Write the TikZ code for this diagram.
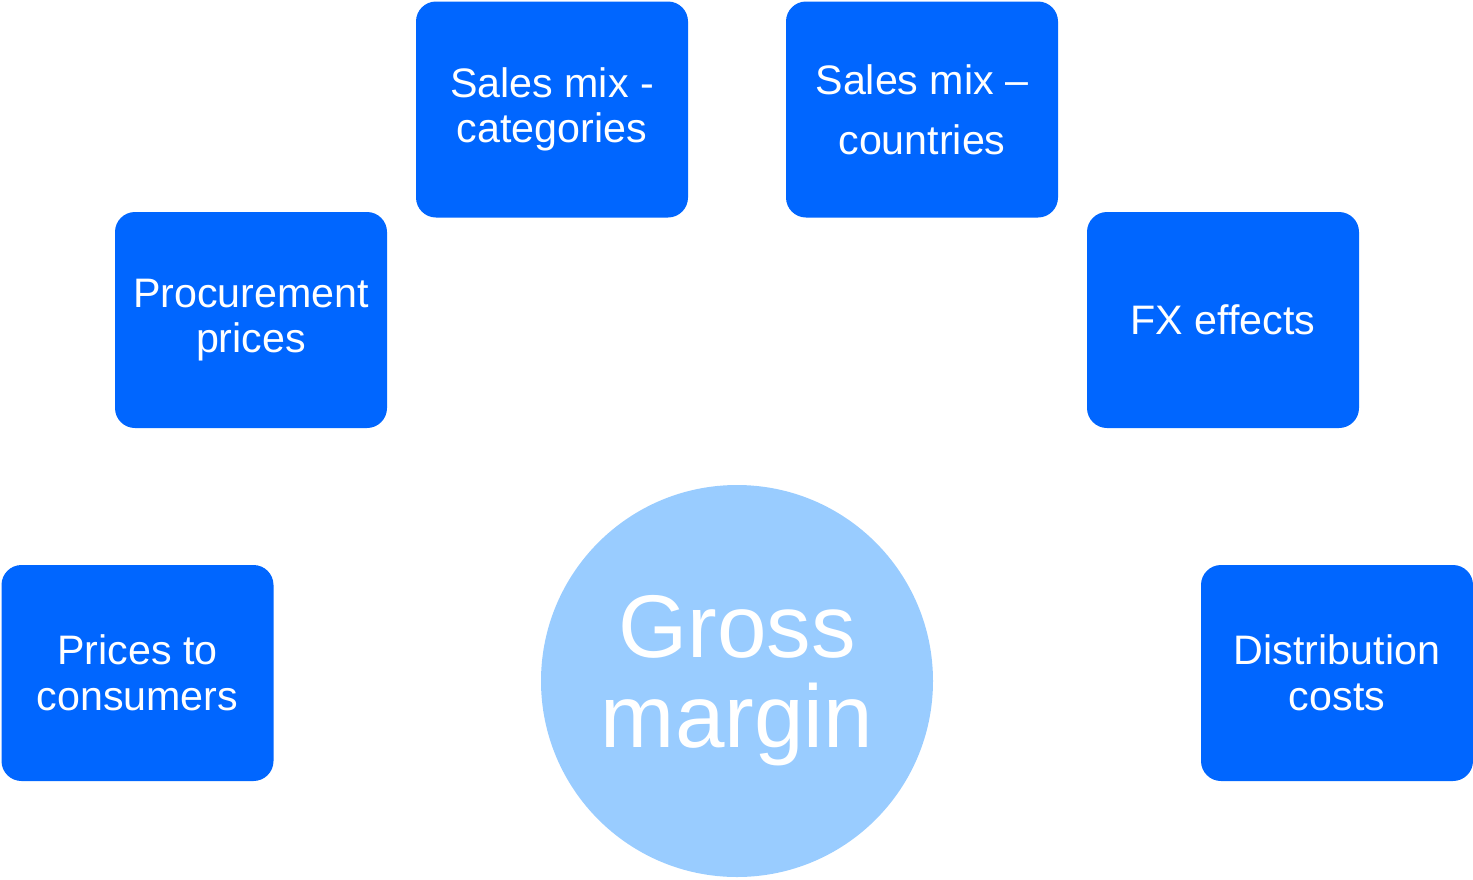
\documentclass[tikz,border=0pt]{standalone}
\usepackage{fontspec}
\setmainfont{Liberation Sans}
\usepackage{tikz}
\usetikzlibrary{positioning}
\definecolor{boxblue}{HTML}{0066FF}
\definecolor{lightblue}{HTML}{99CCFF}

\begin{document}
\begin{tikzpicture}[x=0.5pt, y=-0.5pt]
    \tikzstyle{factor}=[rectangle, rounded corners=10pt, fill=boxblue, text=white, minimum width=136pt, minimum height=108pt, inner sep=0pt, align=center, font=\fontsize{20.6}{22.8}\selectfont]
    \tikzstyle{main}=[circle, fill=lightblue, text=white, minimum size=196pt, inner sep=0pt, align=center, font=\fontsize{44.5}{45}\selectfont]
    \useasboundingbox (0,0) rectangle (1473,879);
      \node[main] (gross) at (737,681) {Gross\\margin};

      \node[factor] (consumers) at (137.5,673) {Prices to\\consumers};
      \node[factor] (procurement) at (251,320) {Procurement\\prices};
      \node[factor] (categories) at (552,109.5) {Sales mix -\\categories};
      \node[factor, font=\fontsize{20.6}{30}\selectfont] (countries) at (922,109.5) {Sales mix –\\countries};
      \node[factor] (fx) at (1223,320) {FX effects};
      \node[factor] (distribution) at (1337,673) {Distribution\\costs};
\end{tikzpicture}
\end{document}
